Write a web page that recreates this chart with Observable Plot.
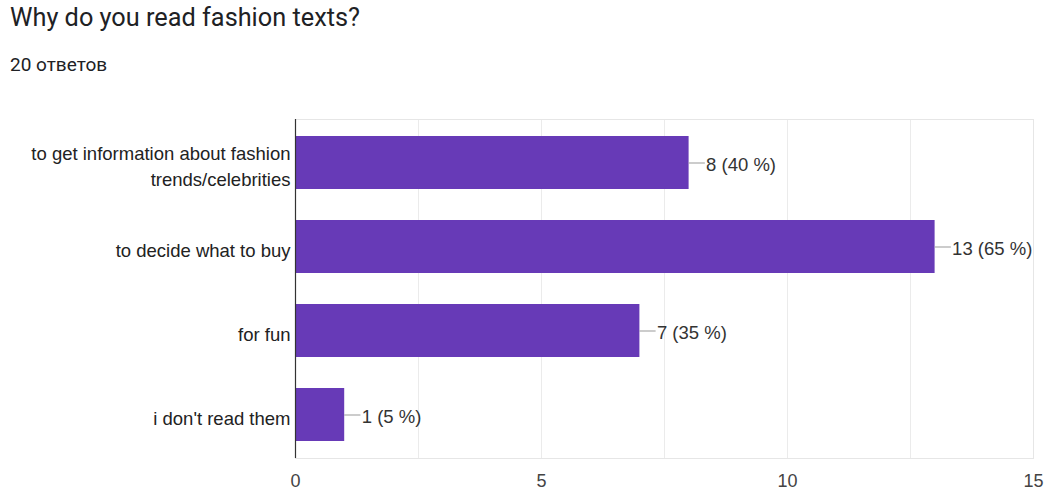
<!DOCTYPE html>
<html>
<head>
<meta charset="utf-8">
<script src="https://cdn.jsdelivr.net/npm/d3@7"></script>
<script src="https://cdn.jsdelivr.net/npm/@observablehq/plot@0.6"></script>
<style>
  html, body { margin: 0; padding: 0; background: #fff; }
  #wrap { position: relative; width: 1048px; height: 490px; overflow: hidden; }
  #head { position: relative; height: 100px; }
  #title { position: absolute; left: 10px; top: 3px; font-family: Roboto, "Liberation Sans", Arial, sans-serif; font-size: 25.3px; color: #202124; line-height: 30px; white-space: nowrap; }
  #subtitle { position: absolute; left: 10px; top: 53px; font-family: Roboto, "Liberation Sans", Arial, sans-serif; font-size: 19px; color: #202124; line-height: 24px; white-space: nowrap; }
  #chart svg { display: block; }
</style>
</head>
<body>
<div id="wrap">
  <div id="head">
    <div id="title">Why do you read fashion texts?</div>
    <div id="subtitle">20 ответов</div>
  </div>
  <div id="chart"></div>
</div>
<script>
const categories = [
  "to get information about fashion\ntrends/celebrities",
  "to decide what to buy",
  "for fun",
  "i don't read them"
];
const counts = [8, 13, 7, 1];
const percents = [40, 65, 35, 5];
const xTicks = [0, 5, 10, 15];

const data = categories.map((c, i) => ({category: c, count: counts[i], pct: percents[i]}));

const chart = Plot.plot({
  width: 1048,
  height: 390,
  marginTop: 19,
  marginBottom: 32,
  marginLeft: 295,
  marginRight: 15,
  style: {fontFamily: "'Liberation Sans', Arial, sans-serif", fontSize: "18px", background: "#fff"},
  x: {domain: [0, 15]},
  y: {domain: categories, paddingInner: 0.37, paddingOuter: 0.2, axis: null},
  marks: [
    Plot.gridX(d3.range(0, 15.01, 2.5), {stroke: "#ebebeb", strokeOpacity: 1}),
    Plot.frame({stroke: "#e6e6e6"}),
    Plot.barX(data, {x: "count", y: "category", fill: "#673ab7"}),
    Plot.ruleX([0], {stroke: "#333", strokeWidth: 1.2}),
    Plot.ruleY(data, {y: "category", x1: "count", x2: d => d.count + 0.33, stroke: "#999"}),
    Plot.text(data, {x: "count", y: "category", text: d => `${d.count} (${d.pct} %)`, dx: 17, dy: 2, textAnchor: "start", fill: "#333", fontSize: 18.5}),
    Plot.text(data, {x: 0, y: "category", text: "category", dx: -5, dy: 2, textAnchor: "end", fill: "#222", fontSize: 18.5, lineHeight: 1.4}),
    Plot.axisX(xTicks, {tickSize: 0, tickPadding: 16, label: null, fill: "#444", fontSize: 18})
  ]
});
document.getElementById("chart").appendChild(chart);
</script>
</body>
</html>
